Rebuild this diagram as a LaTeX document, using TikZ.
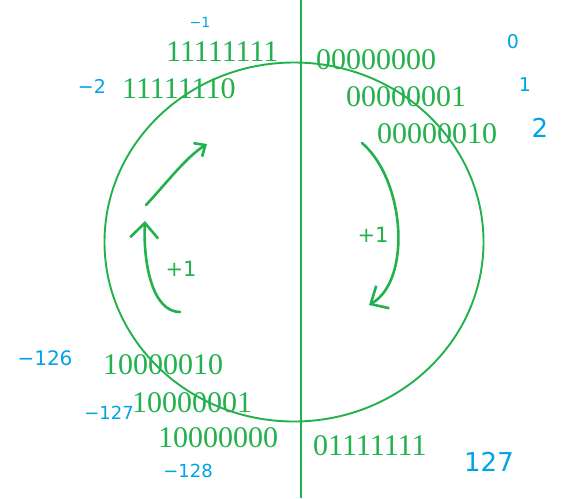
\documentclass[tikz,border=0pt]{standalone}
\usepackage{fontspec}
\setmainfont{Liberation Serif}
\newfontfamily\handfont{DejaVu Sans}
\usetikzlibrary{arrows.meta}
\definecolor{codegreen}{RGB}{34,177,76}
\definecolor{penblue}{RGB}{0,162,232}
\tikzset{
    codenode/.style={
        anchor=west,
        inner sep=0,
        text=codegreen, % 二进制补码
        font=\fontsize{30}{32}\selectfont
    },
    valnode/.style={
        inner sep=0,
        text=penblue, % 对应的十进制值
        font=\handfont\fontsize{#1}{#1}\selectfont
    },
    plusnode/.style={
        inner sep=0,
        text=codegreen,
        font=\handfont\fontsize{21}{21}\selectfont
    },
    penline/.style={
        draw=codegreen,
        line width=2.6pt,
        line cap=round
    }
}

\begin{document}
\begin{tikzpicture}[
                x=1pt, y=-1pt,
                ring/.style={draw=codegreen, line width=1.9pt}
            ]
            \useasboundingbox (0,0) rectangle (572,498);
            % 圆和中线
            \draw[ring] (294,242) ellipse [x radius=189.5, y radius=179.5];
            \coordinate (top) at (301,0);
            \coordinate (bottom) at (301,498);
            \draw[ring] (top) -- (bottom);
            % 右半边
            \node[codenode] (z0) at (316,60) {00000000};
            \node[codenode] (z1) at (346,97) {00000001};
            \node[codenode] (z2) at (377,134) {00000010};
            \node[codenode] (p127) at (313,446) {01111111};
            % 左半边
            \node[codenode] (m1) at (166,52) {11111111};
            \node[codenode] (m2) at (122,89) {11111110};
            \node[codenode] (m126) at (103,365) {10000010};
            \node[codenode] (m127) at (132,403) {10000001};
            \node[codenode] (m128) at (158,438) {10000000};
            % 十进制
            \node[valnode=14] (v m1) at (200,22) {−1};
            \node[valnode=19] (v m2) at (92,86) {−2};
            \node[valnode=19] (v 0) at (513,42) {0};
            \node[valnode=19] (v 1) at (525,85) {1};
            \node[valnode=26] (v 2) at (540,128) {2};
            \node[valnode=20] (v m126) at (45,358) {−126};
            \node[valnode=18] (v m127) at (109,413) {−127};
            \node[valnode=18] (v m128) at (188,471) {−128};
            \node[valnode=26] (v 127) at (489,462) {127};
            % 加一的方向
            \node[plusnode] (plus left) at (181,269) {+1};
            \node[plusnode] (plus right) at (373,235) {+1};
            \coordinate (la) at (180,312);
            \coordinate (lb) at (145,221);
            \coordinate (lc) at (146,205);
            \coordinate (ld) at (207,144);
            \coordinate (ra) at (362,143);
            \coordinate (rb) at (369,305);
            \draw[penline, -{Straight Barb[length=15pt,width=28pt]}]
                (la) .. controls (152,312) and (143,262) .. (lb);
            \draw[penline, -{Straight Barb[length=9pt,width=16pt]}]
                (lc) .. controls (165,185) and (185,158) .. (ld);
            \draw[penline, -{Straight Barb[length=14pt,width=26pt]}]
                (ra) .. controls (405,180) and (412,280) .. (rb);
            \end{tikzpicture}
\end{document}
